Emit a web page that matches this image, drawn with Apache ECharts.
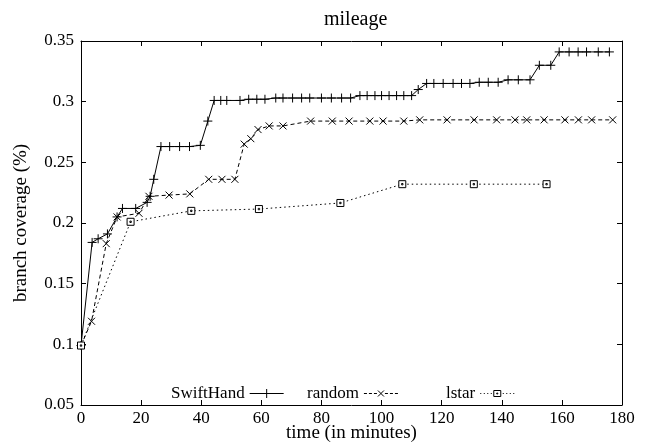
<!DOCTYPE html>
<html>
<head>
<meta charset="utf-8">
<script src="https://cdn.jsdelivr.net/npm/echarts@6/dist/echarts.min.js"></script>
<style>html,body{margin:0;padding:0;background:#fff;overflow:hidden;}#c{width:650px;height:446px;}</style>
</head>
<body>
<div id="c"></div>
<script>
const xTicks = [0, 20, 40, 60, 80, 100, 120, 140, 160, 180];
const yTicks = [0.05, 0.1, 0.15, 0.2, 0.25, 0.3, 0.35];

const swiftTime = [0, 3.7, 5.7, 8.8, 12, 13.8, 18.2, 22, 23, 24.2, 26.6, 29.5, 32.8, 36.1, 39.7, 42.2, 44.3, 46.5, 48.5, 52.9, 55.8, 58.5, 61.2, 64.8, 67.2, 70.4, 73.4, 76.1, 80, 83.3, 86.7, 89.7, 92.8, 95.2, 97.8, 100, 102.5, 105, 107.4, 110, 112.2, 115, 117.4, 120.5, 123.8, 126.6, 129.4, 132.5, 135.5, 138.8, 142.1, 145.5, 149.4, 152.5, 156.3, 159.1, 162.4, 165.4, 168.2, 172.1, 175.8];
const swiftCov = [0.099, 0.184, 0.187, 0.191, 0.205, 0.212, 0.212, 0.217, 0.222, 0.236, 0.263, 0.263, 0.263, 0.263, 0.264, 0.284, 0.301, 0.301, 0.301, 0.301, 0.302, 0.302, 0.302, 0.303, 0.303, 0.303, 0.303, 0.303, 0.303, 0.303, 0.303, 0.303, 0.305, 0.305, 0.305, 0.305, 0.305, 0.305, 0.305, 0.305, 0.310, 0.315, 0.315, 0.315, 0.315, 0.315, 0.315, 0.316, 0.316, 0.316, 0.318, 0.318, 0.318, 0.330, 0.330, 0.341, 0.341, 0.341, 0.341, 0.341, 0.341];

const randomTime = [0, 3.5, 8.4, 12, 19.3, 22.6, 29.3, 36.2, 42.5, 46.9, 51.2, 54.3, 56.5, 58.9, 62.6, 67.2, 76.4, 83.6, 89.2, 96.1, 100.5, 107.4, 112.7, 121.8, 130.8, 138.3, 144.4, 148.3, 154.1, 161, 165.5, 169.9, 176.9];
const randomCov = [0.099, 0.119, 0.183, 0.205, 0.208, 0.222, 0.223, 0.224, 0.236, 0.236, 0.236, 0.265, 0.2695, 0.277, 0.280, 0.280, 0.284, 0.284, 0.284, 0.284, 0.284, 0.284, 0.285, 0.285, 0.285, 0.285, 0.285, 0.285, 0.285, 0.285, 0.285, 0.285, 0.285];

const lstarTime = [0, 16.5, 36.7, 59.2, 86.3, 106.9, 130.7, 154.9];
const lstarCov = [0.099, 0.201, 0.210, 0.2115, 0.2165, 0.232, 0.232, 0.232];

const seriesNames = ['SwiftHand', 'random', 'lstar'];

function pairs(t, v) { return t.map((x, i) => [x, v[i]]); }

const FONT = 'Liberation Serif';
const PLUS = 'path://M0,5L10,5M5,0L5,10';
const CROSS = 'path://M0,0L10,10M10,0L0,10';
const SQUARE = 'path://M0,0L10,0L10,10L0,10Z M4,4L6,4L6,6L4,6Z';

const ICON_SWIFT = 'path://M0,4.5L34,4.5M17,0L17,9M12.5,4.5L21.5,4.5';
const ICON_RANDOM = 'path://M0,4.5L3,4.5M5,4.5L8,4.5M10,4.5L13,4.5M21,4.5L24,4.5M26,4.5L29,4.5M31,4.5L34,4.5M14,1.5L20,7.5M20,1.5L14,7.5';
const ICON_LSTAR = 'path://M0,4.5L1,4.5M3.5,4.5L4.5,4.5M7,4.5L8,4.5M10.5,4.5L11.5,4.5M13.5,1.5L20.5,1.5L20.5,7.5L13.5,7.5Z M16.5,4L17.5,4L17.5,5L16.5,5Z M22.5,4.5L23.5,4.5M26,4.5L27,4.5M29.5,4.5L30.5,4.5M33,4.5L34,4.5';

const chart = echarts.init(document.getElementById('c'), null, {renderer: 'canvas'});

const axisCommon = {
  axisLine: {show: true, onZero: false, lineStyle: {color: '#000', width: 1}},
  axisTick: {show: true, inside: true, length: 5, lineStyle: {color: '#000', width: 1}},
  splitLine: {show: false}
};

function legendFor(name, left, icon, fill) {
  return {
    data: [{name: name, icon: icon}], left: left, top: 385, align: 'right', orient: 'horizontal',
    itemWidth: 34, itemHeight: 9, padding: 0, symbolKeepAspect: true,
    textStyle: {fontFamily: FONT, fontSize: 17, color: '#000'},
    itemStyle: {color: fill, borderColor: '#000', borderWidth: 1},
    lineStyle: {width: 0}
  };
}

chart.setOption({
  animation: false,
  backgroundColor: '#fff',
  title: {
    text: 'mileage', left: 319, top: 5,
    textStyle: {fontFamily: FONT, fontSize: 20, fontWeight: 'normal', color: '#000'}
  },
  legend: [
    legendFor(seriesNames[0], 171, ICON_SWIFT, '#000'),
    legendFor(seriesNames[1], 307, ICON_RANDOM, '#000'),
    legendFor(seriesNames[2], 446, ICON_LSTAR, '#fff')
  ],
  grid: {left: 81, right: 28, top: 41, bottom: 41, containLabel: false, outerBoundsMode: 'none'},
  xAxis: [
    Object.assign({}, axisCommon, {
      type: 'value', min: xTicks[0], max: xTicks[xTicks.length - 1], interval: 20,
      position: 'bottom',
      name: 'time (in minutes)', nameLocation: 'middle', nameGap: 19, nameMoveOverlap: false,
      nameTextStyle: {fontFamily: FONT, fontSize: 19, color: '#000'},
      axisLabel: {fontFamily: FONT, fontSize: 17, color: '#000', margin: 5}
    }),
    Object.assign({}, axisCommon, {
      type: 'value', min: xTicks[0], max: xTicks[xTicks.length - 1], interval: 20,
      position: 'top', axisLabel: {show: false}
    })
  ],
  yAxis: [
    Object.assign({}, axisCommon, {
      type: 'value', min: yTicks[0], max: yTicks[yTicks.length - 1], interval: 0.05,
      position: 'left',
      name: 'branch coverage (%)', nameLocation: 'middle', nameGap: 50, nameRotate: 90, nameMoveOverlap: false,
      nameTextStyle: {fontFamily: FONT, fontSize: 19, color: '#000'},
      axisLabel: {fontFamily: FONT, fontSize: 17, color: '#000', margin: 7}
    }),
    Object.assign({}, axisCommon, {
      type: 'value', min: yTicks[0], max: yTicks[yTicks.length - 1], interval: 0.05,
      position: 'right', axisLabel: {show: false}
    })
  ],
  series: [
    {
      name: seriesNames[0], type: 'line', xAxisIndex: 0, yAxisIndex: 0,
      data: pairs(swiftTime, swiftCov),
      symbol: PLUS, symbolSize: 9, showAllSymbol: true,
      lineStyle: {color: '#000', width: 1, type: 'solid'},
      itemStyle: {color: '#000', borderColor: '#000', borderWidth: 1},
      emphasis: {disabled: true}
    },
    {
      name: seriesNames[1], type: 'line', xAxisIndex: 0, yAxisIndex: 0,
      data: pairs(randomTime, randomCov),
      symbol: CROSS, symbolSize: 7, showAllSymbol: true,
      lineStyle: {color: '#000', width: 1, type: [4, 3]},
      itemStyle: {color: '#000', borderColor: '#000', borderWidth: 1},
      emphasis: {disabled: true}
    },
    {
      name: seriesNames[2], type: 'line', xAxisIndex: 0, yAxisIndex: 0,
      data: pairs(lstarTime, lstarCov),
      symbol: SQUARE, symbolSize: 7, showAllSymbol: true,
      lineStyle: {color: '#000', width: 1, type: [1.5, 3]},
      itemStyle: {color: '#fff', borderColor: '#000', borderWidth: 1},
      emphasis: {disabled: true}
    }
  ]
});
</script>
</body>
</html>
